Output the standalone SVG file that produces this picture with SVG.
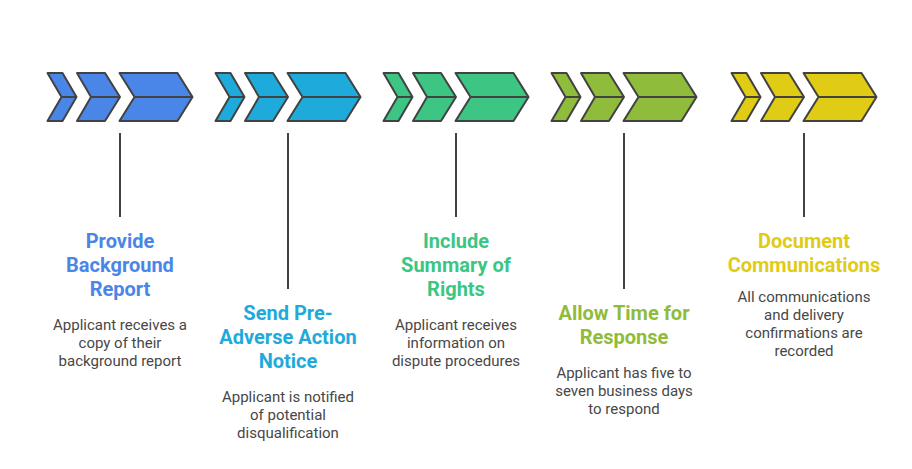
<svg xmlns="http://www.w3.org/2000/svg" width="912" height="469" viewBox="0 0 912 469">
<defs>
<style>
.chev{stroke:#424242;stroke-width:2;stroke-linejoin:round}
.mid{stroke:#424242;stroke-width:2;fill:none}
.conn{stroke:#424242;stroke-width:2;fill:none}
.title{font-family:Roboto,"Liberation Sans",sans-serif;font-weight:bold;font-size:20px;text-anchor:middle}
.desc{font-family:Roboto,"Liberation Sans",sans-serif;font-size:15px;fill:#474747;text-anchor:middle}
</style>
<g id="chevrons">
<polygon points="0,0 15,0 29,24 15,48 0,48 14,24"/>
<polygon points="29.5,0 57.5,0 72.5,24 57.5,48 29.5,48 43.5,24"/>
<polygon points="72,0 130,0 145,24 130,48 72,48 87,24"/>
</g>
<g id="midlines">
<path d="M14,24H29M43.5,24H72.5M87,24H145"/>
</g>
</defs>
<rect width="912" height="469" fill="#ffffff"/>
<g id="connectors">
<line class="conn" x1="120" y1="133" x2="120" y2="217"/>
<line class="conn" x1="288" y1="133" x2="288" y2="289"/>
<line class="conn" x1="456" y1="133" x2="456" y2="217"/>
<line class="conn" x1="624" y1="133" x2="624" y2="289"/>
<line class="conn" x1="804" y1="133" x2="804" y2="217"/>
</g>
<g id="step1">
<g transform="translate(47.5,73)"><use href="#chevrons" class="chev" fill="#4A86E8"/><use href="#midlines" class="mid"/></g>
<text class="title" fill="#4A86E8"><tspan x="120" y="248">Provide</tspan><tspan x="120" y="272">Background</tspan><tspan x="120" y="296">Report</tspan></text>
<text class="desc"><tspan x="120" y="330">Applicant receives a</tspan><tspan x="120" y="348">copy of their</tspan><tspan x="120" y="366">background report</tspan></text>
</g>
<g id="step2">
<g transform="translate(215.5,73)"><use href="#chevrons" class="chev" fill="#1EAADB"/><use href="#midlines" class="mid"/></g>
<text class="title" fill="#1EAADB"><tspan x="288" y="320">Send Pre-</tspan><tspan x="288" y="344">Adverse Action</tspan><tspan x="288" y="368">Notice</tspan></text>
<text class="desc"><tspan x="288" y="402">Applicant is notified</tspan><tspan x="288" y="420">of potential</tspan><tspan x="288" y="438">disqualification</tspan></text>
</g>
<g id="step3">
<g transform="translate(383.5,73)"><use href="#chevrons" class="chev" fill="#3CC583"/><use href="#midlines" class="mid"/></g>
<text class="title" fill="#3CC583"><tspan x="456" y="248">Include</tspan><tspan x="456" y="272">Summary of</tspan><tspan x="456" y="296">Rights</tspan></text>
<text class="desc"><tspan x="456" y="330">Applicant receives</tspan><tspan x="456" y="348">information on</tspan><tspan x="456" y="366">dispute procedures</tspan></text>
</g>
<g id="step4">
<g transform="translate(551.5,73)"><use href="#chevrons" class="chev" fill="#8FBC3A"/><use href="#midlines" class="mid"/></g>
<text class="title" fill="#8FBC3A"><tspan x="624" y="320">Allow Time for</tspan><tspan x="624" y="344">Response</tspan></text>
<text class="desc"><tspan x="624" y="378">Applicant has five to</tspan><tspan x="624" y="396">seven business days</tspan><tspan x="624" y="414">to respond</tspan></text>
</g>
<g id="step5">
<g transform="translate(731.5,73)"><use href="#chevrons" class="chev" fill="#E0CB15"/><use href="#midlines" class="mid"/></g>
<text class="title" fill="#E0CB15"><tspan x="804" y="248">Document</tspan><tspan x="804" y="272">Communications</tspan></text>
<text class="desc"><tspan x="804" y="302">All communications</tspan><tspan x="804" y="320">and delivery</tspan><tspan x="804" y="338">confirmations are</tspan><tspan x="804" y="356">recorded</tspan></text>
</g>
</svg>
